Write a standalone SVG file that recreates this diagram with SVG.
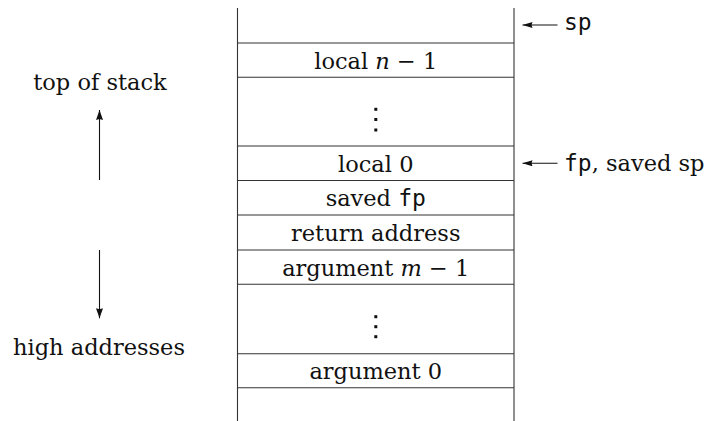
<svg xmlns="http://www.w3.org/2000/svg" width="709" height="421" viewBox="0 0 709 421">
<style>
  .t { font-family: "DejaVu Serif", "Liberation Serif", serif; font-size: 22.5px; fill: #111; }
  .c { text-anchor: middle; }
  .m { font-family: "DejaVu Sans Mono", "Liberation Mono", monospace; font-size: 23px; }
  .i { font-style: italic; }
  .frame { stroke: #333; stroke-width: 1.1; fill: none; }
  .arr { stroke: #111; stroke-width: 1.1; fill: none; }
  .dot { fill: #111; }
</style>
<defs>
  <marker id="ahL" markerUnits="userSpaceOnUse" markerWidth="12" markerHeight="10" refX="10" refY="3.5" orient="auto">
    <path d="M0,0 L10,3.5 L0,7 L1,3.5 Z" fill="#111"/>
  </marker>
  <marker id="ahS" markerUnits="userSpaceOnUse" markerWidth="12" markerHeight="8" refX="10" refY="3" orient="auto">
    <path d="M0,0 L10,3 L0,6 L1,3 Z" fill="#111"/>
  </marker>
</defs>

<g id="stack-frame">
  <line class="frame" x1="237.5" y1="8" x2="237.5" y2="421"/>
  <line class="frame" x1="514" y1="8" x2="514" y2="421"/>
</g>

<g id="cell-top"><line class="frame" x1="237.5" y1="43" x2="514" y2="43"/></g>
<g id="cell-local-n-1">
  <text class="t c" x="375.75" y="68.5">local <tspan class="i">n</tspan> − 1</text>
  <line class="frame" x1="237.5" y1="77.3" x2="514" y2="77.3"/>
</g>
<g id="cell-locals-dots">
  <rect class="dot" x="374.3" y="107.8" width="3" height="3"/>
  <rect class="dot" x="374.3" y="118" width="3" height="3"/>
  <rect class="dot" x="374.3" y="128.5" width="3" height="3"/>
  <line class="frame" x1="237.5" y1="146" x2="514" y2="146"/>
</g>
<g id="cell-local-0">
  <text class="t c" x="375.75" y="172">local 0</text>
  <line class="frame" x1="237.5" y1="180.5" x2="514" y2="180.5"/>
</g>
<g id="cell-saved-fp">
  <text class="t c" x="375.75" y="205.5">saved <tspan class="m">fp</tspan></text>
  <line class="frame" x1="237.5" y1="215" x2="514" y2="215"/>
</g>
<g id="cell-return-address">
  <text class="t c" x="375.75" y="241">return address</text>
  <line class="frame" x1="237.5" y1="250" x2="514" y2="250"/>
</g>
<g id="cell-argument-m-1">
  <text class="t c" x="375.75" y="275.5">argument <tspan class="i">m</tspan> − 1</text>
  <line class="frame" x1="237.5" y1="284.3" x2="514" y2="284.3"/>
</g>
<g id="cell-args-dots">
  <rect class="dot" x="374.3" y="315.2" width="3" height="3"/>
  <rect class="dot" x="374.3" y="325.2" width="3" height="3"/>
  <rect class="dot" x="374.3" y="335.2" width="3" height="3"/>
  <line class="frame" x1="237.5" y1="353.7" x2="514" y2="353.7"/>
</g>
<g id="cell-argument-0">
  <text class="t c" x="375.75" y="379">argument 0</text>
  <line class="frame" x1="237.5" y1="387.7" x2="514" y2="387.7"/>
</g>

<g id="label-sp">
  <text class="t m" x="564" y="30">sp</text>
</g>
<g id="label-fp">
  <text class="t" x="564" y="170.5"><tspan class="m">fp</tspan>, saved sp</text>
</g>
<g id="label-top">
  <text class="t c" x="100" y="90">top of stack</text>
</g>
<g id="label-high">
  <text class="t c" x="99" y="355">high addresses</text>
</g>

<g id="connectors">
  <line class="arr" x1="557.5" y1="25" x2="522.5" y2="25" marker-end="url(#ahS)"/>
  <line class="arr" x1="557.5" y1="163.3" x2="522.5" y2="163.3" marker-end="url(#ahS)"/>
  <line class="arr" x1="99.5" y1="180" x2="99.5" y2="110" marker-end="url(#ahL)"/>
  <line class="arr" x1="99.5" y1="250" x2="99.5" y2="318.3" marker-end="url(#ahL)"/>
</g>
</svg>
